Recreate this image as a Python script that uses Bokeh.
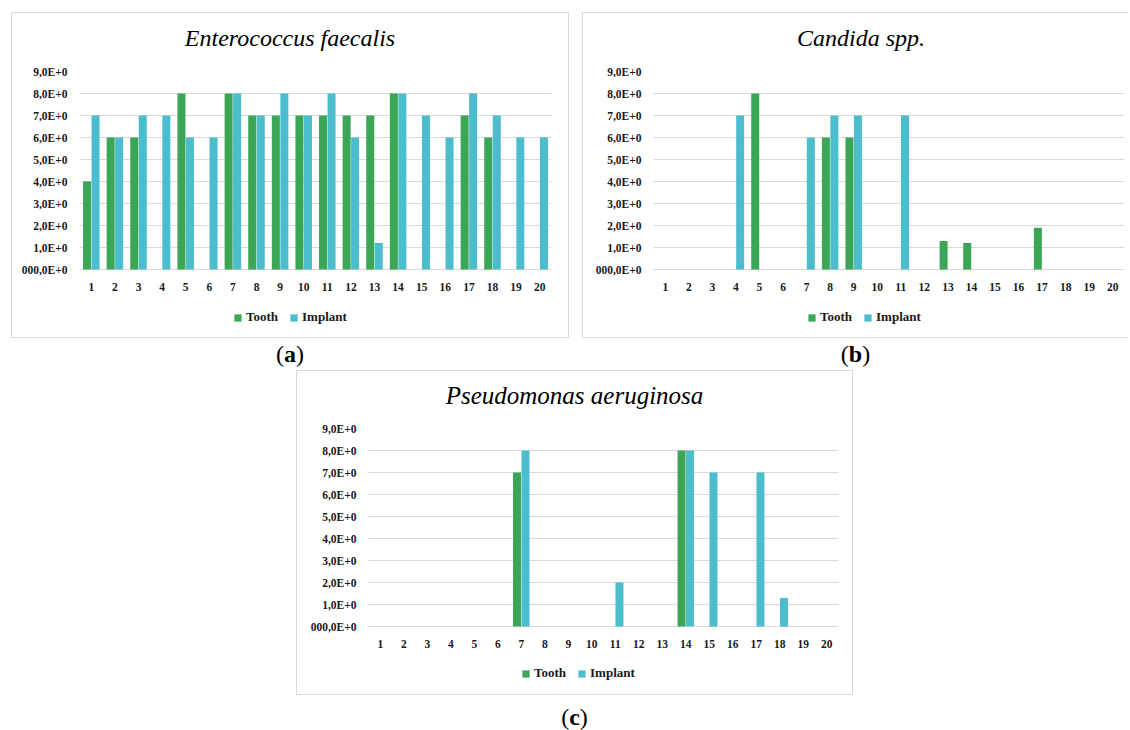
from bokeh.plotting import figure
from bokeh.models import (Range1d, FactorRange, FixedTicker, Legend, LegendItem,
                          ColumnDataSource, Div, Spacer)
from bokeh.layouts import row, column
from bokeh.transform import dodge
from bokeh.core.properties import value
from bokeh.embed import file_html
from bokeh.resources import INLINE

# ---------------- data ----------------
cats = [str(i) for i in range(1, 21)]
y_ticks = [0, 1, 2, 3, 4, 5, 6, 7, 8, 9]
y_tick_labels = ["000,0E+0", "1,0E+0", "2,0E+0", "3,0E+0", "4,0E+0",
                 "5,0E+0", "6,0E+0", "7,0E+0", "8,0E+0", "9,0E+0"]
series_names = ["Tooth", "Implant"]

ef_title = "Enterococcus faecalis"
ef_tooth = [4, 6, 6, 0, 8, 0, 8, 7, 7, 7, 7, 7, 7, 8, 0, 0, 7, 6, 0, 0]
ef_implant = [7, 6, 7, 7, 6, 6, 8, 7, 8, 7, 8, 6, 1.2, 8, 7, 6, 8, 7, 6, 6]

ca_title = "Candida spp."
ca_tooth = [0, 0, 0, 0, 8, 0, 0, 6, 6, 0, 0, 0, 1.3, 1.2, 0, 0, 1.9, 0, 0, 0]
ca_implant = [0, 0, 0, 7, 0, 0, 6, 7, 7, 0, 7, 0, 0, 0, 0, 0, 0, 0, 0, 0]

pa_title = "Pseudomonas aeruginosa"
pa_tooth = [0, 0, 0, 0, 0, 0, 7, 0, 0, 0, 0, 0, 0, 8, 0, 0, 0, 0, 0, 0]
pa_implant = [0, 0, 0, 0, 0, 0, 8, 0, 0, 0, 2, 0, 0, 8, 7, 0, 7, 1.3, 0, 0]

panel_labels = ["a", "b", "c"]

# ---------------- style ----------------
TOOTH = "#3ba655"
IMPLANT = "#4bbdcc"
GRID = "#d9d9d9"
FONT = "Liberation Serif"
TXT = "#1a1a1a"
PX_PER_UNIT = 22.0   # vertical scale of the value axis in the reference


def make_panel(title, tooth, implant, inner_w, inner_h, title_h, bl, br, bt, bb,
               title_size, title_indent, leg_x, leg_y, border_right=True):
    tdiv = Div(text=title, width=inner_w, height=title_h, margin=0,
               styles={"text-align": "center", "font-family": FONT,
                       "font-style": "italic", "font-size": title_size,
                       "line-height": "%dpx" % title_h, "color": "#000000",
                       "text-indent": "%dpx" % title_indent,
                       "white-space": "nowrap"})
    fig_h = inner_h - title_h
    frame_h = fig_h - bt - bb
    y_start = y_ticks[-1] - frame_h / PX_PER_UNIT   # room below 0 for labels/legend
    p = figure(x_range=FactorRange(factors=cats, range_padding=0),
               y_range=Range1d(y_start, y_ticks[-1]), width=inner_w, height=fig_h,
               output_backend="svg", toolbar_location=None, x_axis_location=None,
               min_border_left=bl, min_border_right=br,
               min_border_top=bt, min_border_bottom=bb)
    src = ColumnDataSource(dict(cat=cats, tooth=tooth, implant=implant))
    r1 = p.vbar(x=dodge("cat", -0.18, range=p.x_range), top="tooth", bottom=0,
                width=0.34, source=src, fill_color=TOOTH, line_color=None)
    r2 = p.vbar(x=dodge("cat", 0.18, range=p.x_range), top="implant", bottom=0,
                width=0.34, source=src, fill_color=IMPLANT, line_color=None)

    # category labels under the zero line
    p.text(x="cat", y=0, text="cat", source=src, y_offset=17,
           text_align="center", text_baseline="middle",
           text_font=value(FONT), text_font_style="bold",
           text_font_size="11.5px", text_color=TXT)

    p.outline_line_color = None
    p.xgrid.visible = False
    p.ygrid.grid_line_color = GRID
    p.ygrid.grid_line_width = 1

    p.yaxis.ticker = FixedTicker(ticks=y_ticks)
    p.yaxis.major_label_overrides = dict(zip(y_ticks, y_tick_labels))
    ax = p.yaxis[0]
    ax.axis_line_color = None
    ax.major_tick_line_color = None
    ax.minor_tick_line_color = None
    ax.major_tick_out = 0
    ax.major_tick_in = 0
    ax.minor_tick_out = 0
    ax.major_label_text_font = FONT
    ax.major_label_text_font_style = "bold"
    ax.major_label_text_font_size = "11.5px"
    ax.major_label_text_color = TXT
    ax.major_label_standoff = 12

    legend = Legend(items=[LegendItem(label=value(series_names[0]), renderers=[r1]),
                           LegendItem(label=value(series_names[1]), renderers=[r2])],
                    orientation="horizontal", location=(leg_x, leg_y),
                    label_text_font=FONT, label_text_font_style="bold",
                    label_text_font_size="13px", label_text_color=TXT,
                    glyph_width=9, glyph_height=9, label_height=14,
                    label_standoff=4, spacing=11, padding=0, margin=0,
                    border_line_color=None, background_fill_alpha=0)
    p.add_layout(legend, "center")
    box = {"border": "1px solid #d9d9d9", "background": "#ffffff"}
    if not border_right:
        box["border-right"] = "1px solid #ffffff"
    return column(tdiv, p, styles=box)


def make_label(letter, width, height, line_h, pad_top):
    return Div(text="(<b>%s</b>)" % letter, width=width, height=height, margin=0,
               styles={"text-align": "center", "font-family": FONT,
                       "font-size": "24px", "line-height": "%dpx" % line_h,
                       "padding-top": "%dpx" % pad_top, "color": "#000000"})


pa_ = make_panel(ef_title, ef_tooth, ef_implant, 556, 324, 50, 67, 17, 8, 2,
                 "24px", 0, 154, 10)
pb_ = make_panel(ca_title, ca_tooth, ca_implant, 545, 324, 50, 70, 4, 8, 2,
                 "24px", 11, 154, 10, border_right=False)
pc_ = make_panel(pa_title, pa_tooth, pa_implant, 555, 323, 50, 71, 14, 7, 2,
                 "25px", 0, 153, 11)

da = make_label(panel_labels[0], 558, 32, 32, 0)
db = make_label(panel_labels[1], 547, 32, 32, 0)
dc = make_label(panel_labels[2], 557, 24, 24, 10)

top = row(Spacer(width=11), column(Spacer(height=12), pa_, da),
          Spacer(width=13), column(Spacer(height=12), pb_, db))
bottom = row(Spacer(width=296), column(pc_, dc))
layout = column(top, bottom)

open("out.html", "w").write(file_html(layout, INLINE))
